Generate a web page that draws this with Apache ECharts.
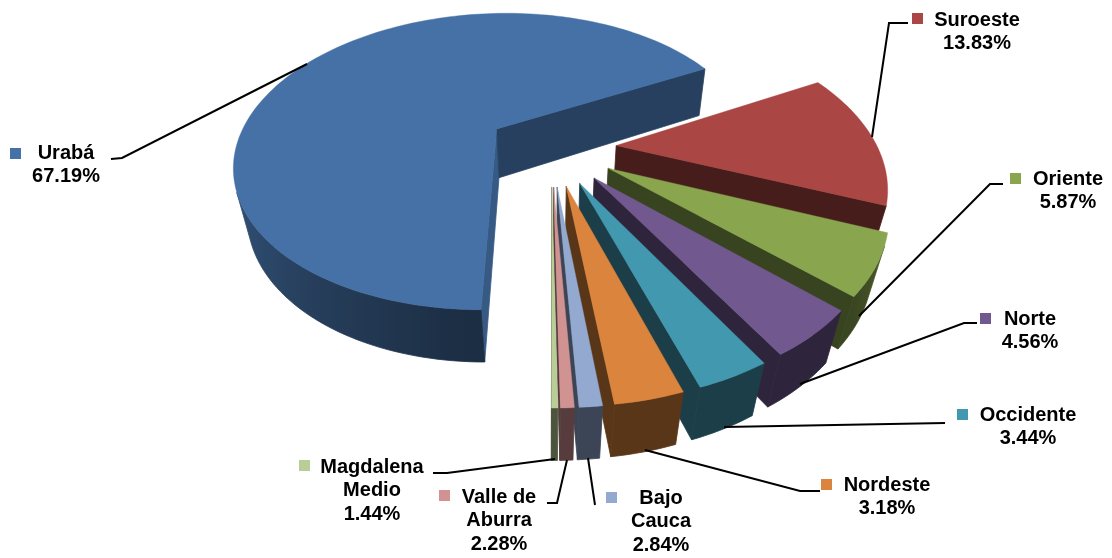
<!DOCTYPE html>
<html><head><meta charset="utf-8"><style>html,body{margin:0;background:#fff}#c{width:1112px;height:558px}</style></head><body><div id="c"></div>
<script src="https://cdn.jsdelivr.net/npm/echarts@6/dist/echarts.min.js"></script>
<script>
// ---- data ----
var categories = ['Suroeste','Oriente','Norte','Occidente','Nordeste','Bajo Cauca','Valle de Aburra','Magdalena Medio','Urabá'];
// percentages as printed on the labels
var printedPercents = ['13.83%','5.87%','4.56%','3.44%','3.18%','2.84%','2.28%','1.44%','67.19%'];
// slice sizes (the last three small slices are drawn far smaller than printed)
var sliceShares = [13.83,5.87,4.56,3.44,3.18,1.04,0.61,0.28,67.19];
// ---- style / layout ----
var topColors = ['#AA4643','#89A54E','#71588F','#4198AF','#DB843D','#93A9CF','#D19392','#B9CD96','#4571A6'];
var labelLines = [['Suroeste'],['Oriente'],['Norte'],['Occidente'],['Nordeste'],['Bajo','Cauca'],['Valle de','Aburra'],['Magdalena','Medio'],['Urabá']];
var labelCentreX = [977,1068,1030,1028,887,661,499,372,66];
var labelFirstY = [20,179,319,415,485,498,497,467,153];
var keyPos = [[912,13],[1010,173],[980,313],[957,409],[821,479],[606,492],[439,490],[299,460],[10,148]];
var leaders = [
 [[908,23],[889,23],[872,137]],
 [[1003,184],[990,184],[859,316]],
 [[977,323],[964,323],[800,384]],
 [[945,423],[724,427]],
 [[820,491],[800,491],[645,450]],
 [[588,458],[595,505]],
 [[547,503],[557,503],[567,460]],
 [[433,473],[447,473],[555,459]],
 [[111,159],[122,158],[307,64]]
];
var drawOrder = [8,0,1,2,3,4,5,6,7];
var view = {cx:550.44, cy:147.6, S:261.38, q:0.5716, k:0.2264, x0:0.0027, pz:0.1975, kz:0.0449, explode:0.25, start:28.02};

// ---- geometry helpers ----
var total = sliceShares.reduce(function(a,b){return a+b;},0);
var bounds = [view.start];
sliceShares.forEach(function(s,i){bounds.push(bounds[i]-s/total*360);});
function project(u,v,bottom){
  var w = 1+view.k*v+(bottom?view.kz:0);
  return [view.cx+view.S*(u+view.x0)/w, view.cy-view.S*(view.q*v-(bottom?view.pz:0))/w];
}
function shade(hex,f){
  var n=parseInt(hex.slice(1),16);
  function c(x){return Math.round(Math.min(255,x*f));}
  return 'rgb('+c(n>>16&255)+','+c(n>>8&255)+','+c(n&255)+')';
}
function arcShade(t){
  if(t>-45) return 0.41+(t+45)/25*0.2;
  if(t>-94) return 0.41;
  return Math.min(0.85,0.41+(-94-t)/90*0.44);
}
function visible(a,b,a2,b2){
  var dx=b[0]-a[0],dy=b[1]-a[1],ox=(a2[0]+b2[0]-a[0]-b[0])/2,oy=(a2[1]+b2[1]-a[1]-b[1])/2;
  return dx*oy-dy*ox<0;
}
function quad(a,b,b2,a2,color){
  return {type:'polygon',shape:{points:[a,b,b2,a2]},style:{fill:color,stroke:color,lineWidth:0.8}};
}
function renderSlice(params,api){
  var i=api.value(0), base=topColors[i];
  var t0=bounds[i], t1=bounds[i+1], mid=(t0+t1)/2*Math.PI/180;
  var ox=view.explode*Math.cos(mid), oy=view.explode*Math.sin(mid);
  function P(t,bot){var r=t*Math.PI/180;return project(ox+Math.cos(r),oy+Math.sin(r),bot);}
  var A=project(ox,oy,false), A2=project(ox,oy,true);
  var n=Math.max(2,Math.ceil((t0-t1)/1.5)), pts=[A], children=[];
  var isBig = i===8;
  // radial walls
  var s=P(t0),s2=P(t0,true),e=P(t1),e2=P(t1,true);
  if(visible(A,s,A2,s2)) children.push(quad(A,s,s2,A2,shade(base,isBig?0.8:0.41)));
  if(visible(e,A,e2,A2)) children.push(quad(e,A,A2,e2,shade(base,isBig?0.57:0.41)));
  // rim: the camera-facing part of the arc as one gradient-filled band
  var upper=[], lower=[], samples=[];
  for(var j=0;j<n;j++){
    var a=t0+(t1-t0)*j/n, b=t0+(t1-t0)*(j+1)/n;
    var pa=P(a),pb=P(b),qa=P(a,true),qb=P(b,true);
    pts.push(pa);
    if(visible(pa,pb,qa,qb)){
      if(!upper.length){upper.push(pa);lower.push(qa);samples.push([pa[0],arcShade(a)]);}
      upper.push(pb);lower.push(qb);samples.push([pb[0],arcShade(b)]);
    }
  }
  pts.push(P(t1));
  if(upper.length){
    var xs=samples.map(function(p){return p[0];});
    var xmin=Math.min.apply(null,xs), xmax=Math.max.apply(null,xs), span=Math.max(1,xmax-xmin);
    var stops=samples.map(function(p){return {offset:(p[0]-xmin)/span,color:shade(base,p[1])};})
      .sort(function(p,q){return p.offset-q.offset;});
    var fill=new echarts.graphic.LinearGradient(xmin,0,xmax,0,stops,true);
    children.push({type:'polygon',shape:{points:upper.concat(lower.reverse())},style:{fill:fill,stroke:fill,lineWidth:0.8}});
  }
  children.push({type:'polygon',shape:{points:pts},style:{fill:base,stroke:base,lineWidth:0.4}});
  return {type:'group',children:children};
}

// ---- annotations ----
var graphics=[];
var FONT='bold 20px "Liberation Sans", Arial, sans-serif';
categories.forEach(function(c,i){
  graphics.push({type:'polyline',z:5,shape:{points:leaders[i]},style:{stroke:'#000',lineWidth:2,fill:null}});
  graphics.push({type:'rect',z:6,shape:{x:keyPos[i][0],y:keyPos[i][1],width:11,height:11},style:{fill:topColors[i]}});
  labelLines[i].concat([printedPercents[i]]).forEach(function(line,k){
    graphics.push({type:'text',z:6,x:labelCentreX[i],y:labelFirstY[i]+k*23.5,
      style:{text:line,font:FONT,fill:'#000',align:'center',verticalAlign:'middle'}});
  });
});

var chart=echarts.init(document.getElementById('c'),null,{renderer:'canvas'});
chart.setOption({
  animation:false,
  backgroundColor:'#fff',
  series:[{type:'custom',coordinateSystem:'none',renderItem:renderSlice,silent:true,
    encode:{value:1,itemName:2},
    data:drawOrder.map(function(i){return [i,sliceShares[i],categories[i]];})}],
  graphic:graphics
});
</script></body></html>
